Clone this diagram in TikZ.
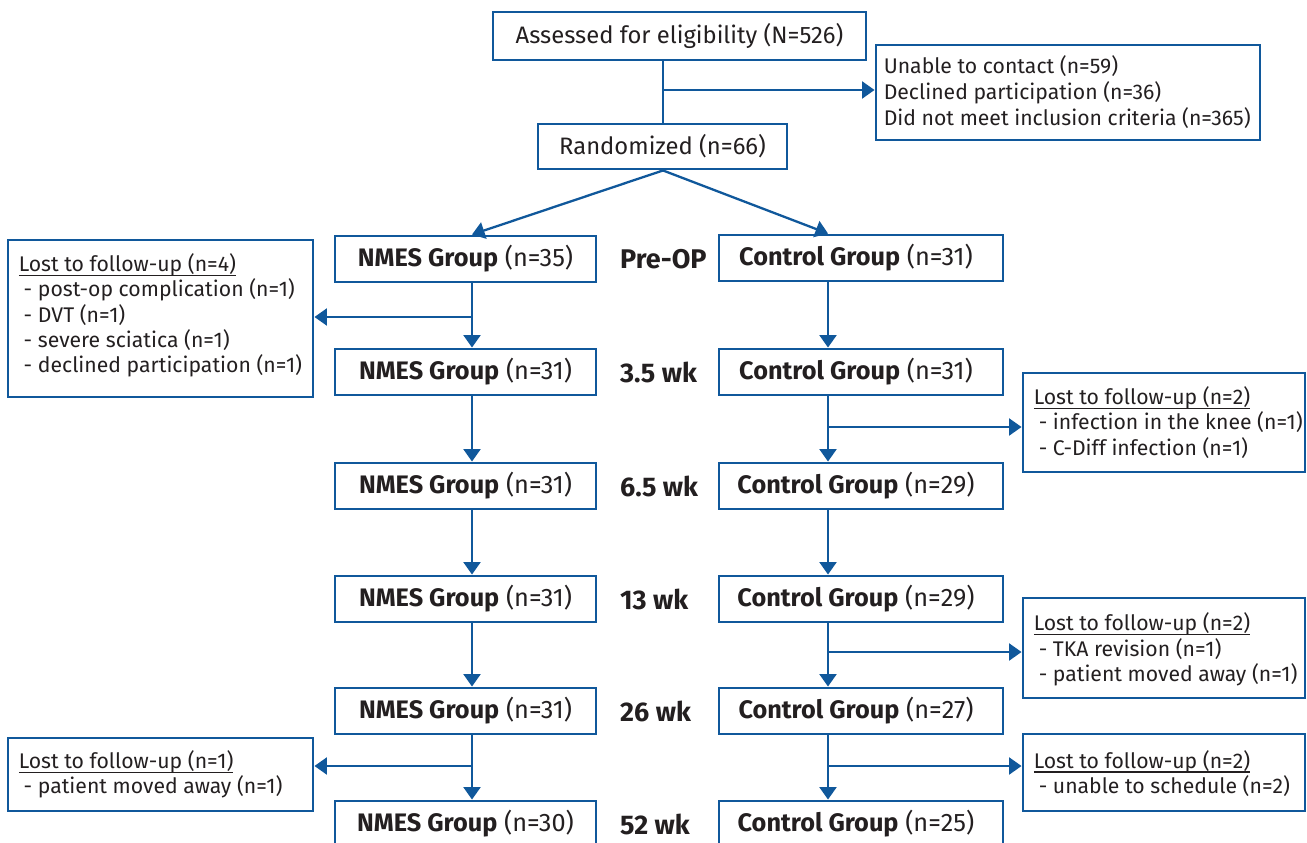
\documentclass[tikz,border=0pt]{standalone}
\usepackage{fontspec}
\setmainfont{Fira Sans}
\usetikzlibrary{arrows.meta,calc}
\definecolor{bl}{RGB}{16,88,155}
\definecolor{tx}{RGB}{35,31,32}
\newcommand{\myul}[1]{\setbox0\hbox{#1}\rlap{\rule[-4.5pt]{\wd0}{1.3pt}}\box0}
\begin{document}
\begin{tikzpicture}[x=1pt,y=-1pt,
  font=\fontsize{21.2}{25.3}\selectfont,
  box/.style={draw=bl, line width=2.9pt, inner sep=0pt, text=tx},
  mainbox/.style={box, font=\fontsize{23.8}{26}\selectfont},
  grp/.style={box, font=\fontsize{25.3}{26}\selectfont, minimum height=46pt},
  ltext/.style={anchor=west, align=left, inner sep=0pt, text=tx},
  tlab/.style={anchor=west, inner sep=0pt, text=tx, font=\fontsize{27}{28}\selectfont\bfseries},
  conn/.style={draw=bl, line width=2.3pt},
  arr/.style={conn, -{Triangle[length=12.5pt,width=17pt]}}]
\useasboundingbox (0,0) rectangle (1307,843);

% top part
\node[mainbox, minimum width=373pt, minimum height=48pt] (assess) at (679.5,36) {Assessed for eligibility (N=526)};
\node[box, minimum width=384pt, minimum height=95pt] (excl) at (1068,92.5) {};
\node[ltext, font=\fontsize{21.2}{26}\selectfont] (exclt) at ([xshift=9pt]excl.west) {Unable to contact (n=59)\\Declined participation (n=36)\\Did not meet inclusion criteria (n=365)};
\node[mainbox, minimum width=249pt, minimum height=45pt] (rand) at (662.5,146.5) {Randomized (n=66)};

% group boxes
\node[grp, minimum width=261pt] (n1) at (465.5,259) {\textbf{NMES Group} (n=35)};
\node[grp, minimum width=261pt] (n2) at (465.5,372) {\textbf{NMES Group} (n=31)};
\node[grp, minimum width=261pt] (n3) at (465.5,486) {\textbf{NMES Group} (n=31)};
\node[grp, minimum width=261pt] (n4) at (465.5,599) {\textbf{NMES Group} (n=31)};
\node[grp, minimum width=261pt] (n5) at (465.5,711) {\textbf{NMES Group} (n=31)};
\node[grp, minimum width=261pt] (n6) at (465.5,824) {\textbf{NMES Group} (n=30)};

\node[grp, minimum width=284pt] (c1) at (861,258) {\textbf{Control Group} (n=31)\kern10pt};
\node[grp, minimum width=284pt] (c2) at (861,372) {\textbf{Control Group} (n=31)\kern10pt};
\node[grp, minimum width=284pt] (c3) at (861,486) {\textbf{Control Group} (n=29)\kern10pt};
\node[grp, minimum width=284pt] (c4) at (861,599) {\textbf{Control Group} (n=29)\kern10pt};
\node[grp, minimum width=284pt] (c5) at (861,711) {\textbf{Control Group} (n=27)\kern10pt};
\node[grp, minimum width=284pt] (c6) at (861,824) {\textbf{Control Group} (n=25)\kern10pt};

% time labels
\node[tlab] (t1) at (620,259) {Pre-OP};
\node[tlab] (t2) at (620,372) {3.5 wk};
\node[tlab] (t3) at (620,486) {6.5 wk};
\node[tlab] (t4) at (620,599) {13 wk};
\node[tlab] (t5) at (620,711) {26 wk};
\node[tlab] (t6) at (620,824) {52 wk};

% loss boxes
\node[box, minimum width=305pt, minimum height=157pt] (L1) at (160.5,318.5) {};
\node[ltext] (L1t) at ([xshift=12pt,yshift=3pt]L1.west) {\myul{Lost to follow-up (n=4)}\\
\hspace*{5pt}- post-op complication (n=1)\\
\hspace*{5pt}- DVT (n=1)\\
\hspace*{5pt}- severe sciatica (n=1)\\
\hspace*{5pt}- declined participation (n=1)};

\node[box, minimum width=282pt, minimum height=99pt] (R1) at (1164,422.5) {};
\node[ltext] (R1t) at ([xshift=12pt]R1.west) {\myul{Lost to follow-up (n=2)}\\
\hspace*{5pt}- infection in the knee (n=1)\\
\hspace*{5pt}- C-Diff infection (n=1)};

\node[box, minimum width=282pt, minimum height=100pt] (R2) at (1164,648) {};
\node[ltext] (R2t) at ([xshift=12pt,yshift=-1.5pt]R2.west) {\myul{Lost to follow-up (n=2)}\\
\hspace*{5pt}- TKA revision (n=1)\\
\hspace*{5pt}- patient moved away (n=1)};

\node[box, minimum width=282pt, minimum height=77pt] (R3) at (1164,772.5) {};
\node[ltext] (R3t) at ([xshift=12pt,yshift=-1pt]R3.west) {\myul{Lost to follow-up (n=2)}\\
\hspace*{5pt}- unable to schedule (n=2)};

\node[box, minimum width=305pt, minimum height=73pt] (L2) at (160.5,774.5) {};
\node[ltext] (L2t) at ([xshift=12pt]L2.west) {\myul{Lost to follow-up (n=1)}\\
\hspace*{5pt}- patient moved away (n=1)};

% connectors
\coordinate (j0) at (663,90);
\coordinate (nx) at (472,0);
\coordinate (cx) at (828,0);
\draw[conn] (j0 |- assess.south) -- (j0 |- rand.north);
\draw[arr] (j0) -- (j0 -| excl.west);
\draw[arr] (rand.south -| j0) -- (n1.north -| nx);
\draw[arr] (rand.south -| j0) -- (c1.north -| cx);

\foreach \a/\b in {1/2,2/3,3/4,4/5,5/6}{
  \draw[arr] (n\a.south -| nx) -- (n\b.north -| nx);
  \draw[arr] (c\a.south -| cx) -- (c\b.north -| cx);
}

\coordinate (bL1) at (472,317);
\coordinate (bR1) at (828,427);
\coordinate (bR2) at (828,652);
\coordinate (bR3) at (828,766);
\coordinate (bL2) at (472,766);
\draw[arr] (bL1) -- (bL1 -| L1.east);
\draw[arr] (bL2) -- (bL2 -| L2.east);
\draw[arr] (bR1) -- (bR1 -| R1.west);
\draw[arr] (bR2) -- (bR2 -| R2.west);
\draw[arr] (bR3) -- (bR3 -| R3.west);
\end{tikzpicture}
\end{document}
